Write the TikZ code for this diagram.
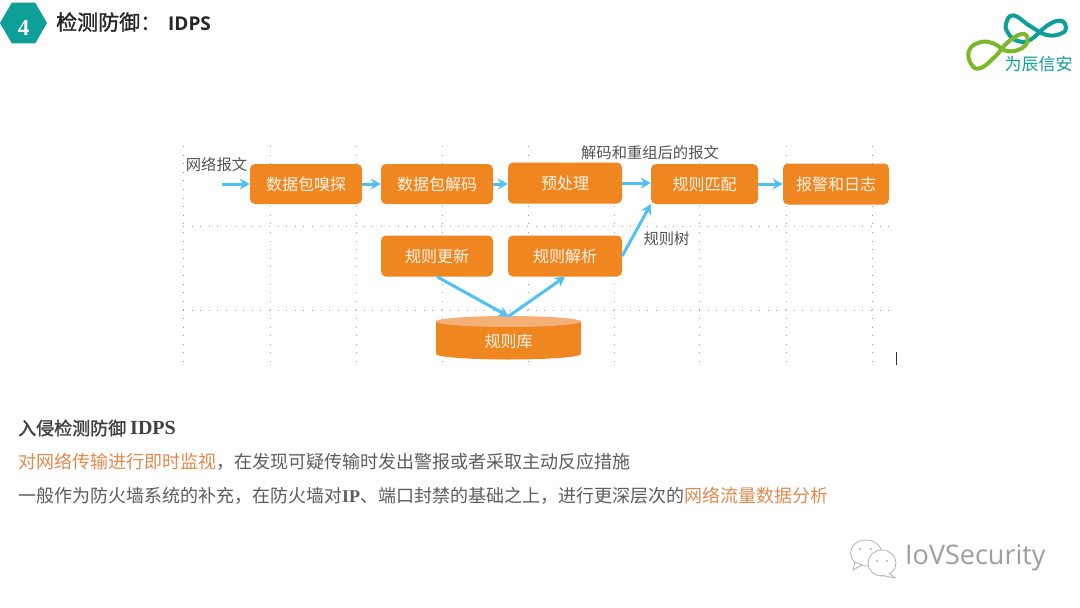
\documentclass[tikz,border=0pt]{standalone}
\usepackage{fontspec}
\setmainfont{Liberation Serif}
\newfontfamily\cjk{Noto Sans CJK SC}
\newfontfamily\cjkb[RawFeature={embolden=1.5}]{Noto Sans CJK SC}
\newfontfamily\lsans{Open Sans}
\usetikzlibrary{arrows.meta,shapes.geometric}
\definecolor{boxor}{HTML}{F0861F}
\definecolor{dbtop}{HTML}{F5B078}
\definecolor{arrowb}{HTML}{4FC1F5}
\definecolor{teal1}{HTML}{0E9F99}
\definecolor{green1}{HTML}{7CB82A}
\definecolor{txt}{HTML}{404040}
\definecolor{hl}{HTML}{DF8A4E}
\tikzset{
  x=1pt,y=-1pt,
  pbox/.style={rectangle,rounded corners=5pt,fill=boxor,text=white!92!boxor,font=\cjk\fontsize{16}{16}\selectfont,inner sep=0pt},
  lbl/.style={font=\cjk\fontsize{15.3}{16}\selectfont,text=txt!90!white,inner sep=0pt},
  flow/.style={draw=arrowb,line width=3pt,-{Stealth[length=10pt,width=11pt]},shorten >=0pt},
  griddot/.style={draw=black!38,line width=1pt,dash pattern=on 1pt off 7.6pt},
  para/.style={anchor=west,inner sep=0pt,font=\cjk\fontsize{18}{20}\selectfont,text=txt!85!white},
}
\begin{document}
\begin{tikzpicture}
\useasboundingbox (0,0) rectangle (1080,608);
\fill[white] (0,0) rectangle (1080,608);

% dotted grid
\foreach \gx in {183,270,356,442,528,614,699,786,872}{\draw[griddot] (\gx,146) -- (\gx,364);}
\foreach \gy in {226,310}{\draw[griddot] (183,\gy) -- (890,\gy);}

% header
\node[regular polygon,regular polygon sides=6,fill=teal1,minimum size=47pt,inner sep=0pt] (hex) at (23.5,23) {};
\node[font=\rmfamily\bfseries\fontsize{23}{24}\selectfont,text=white,inner sep=0pt] (num) at (23.5,28) {4};
\node[anchor=west,inner sep=0pt,text=black!85] (title) at (56,22) {\cjkb\fontsize{21}{22}\selectfont 检测防御：\hspace{7pt}\lsans\bfseries\fontsize{19}{22}\selectfont IDPS};

% logo
\begin{scope}[shift={(950,0)},x=0.3333pt,y=-0.3333pt]
\draw[teal1,line width=4pt] plot[smooth cycle,tension=0.75] coordinates {(168,72)(190,46)(240,78)(290,105)(335,100)(348,80)(330,62)(290,78)(240,120)(200,122)(175,100)};
\draw[green1,line width=4pt] plot[smooth cycle,tension=0.75] coordinates {(233,118)(215,102)(172,128)(135,170)(90,205)(62,190)(58,150)(90,127)(130,130)(170,153)(215,145)};
\end{scope}
\node[font=\cjk\fontsize{17}{17}\selectfont,text=teal1,inner sep=0pt] (logotext) at (1038.5,64) {为辰信安};

% boxes
\node[pbox,minimum width=112pt,minimum height=40pt] (sniff) at (306,184) {数据包嗅探};
\node[pbox,minimum width=112pt,minimum height=40pt] (decode) at (437,184) {数据包解码};
\node[pbox,minimum width=114pt,minimum height=41pt] (prep) at (565,183) {预处理};
\node[pbox,minimum width=107pt,minimum height=40pt] (match) at (704.5,184) {规则匹配};
\node[pbox,minimum width=106pt,minimum height=41pt] (alarm) at (836,184) {报警和日志};
\node[pbox,minimum width=112pt,minimum height=41pt] (update) at (437,256) {规则更新};
\node[pbox,minimum width=114pt,minimum height=41pt] (parse) at (565,256) {规则解析};

% database
\fill[boxor] (436,321) rectangle (581,354);
\fill[boxor] (508.5,354) ellipse[x radius=72.5,y radius=5.5];
\fill[dbtop] (508.5,321.5) ellipse[x radius=72.5,y radius=5.5];
\node[minimum width=145pt,minimum height=43pt,inner sep=0pt] (db) at (508.5,338) {};
\node[text=white!92!boxor,font=\cjk\fontsize{16}{16}\selectfont,inner sep=0pt] (dbname) at (508.5,341) {规则库};

% labels
\node[lbl] (in) at (216.5,165) {网络报文};
\node[lbl] (dec) at (650,153) {解码和重组后的报文};
\node[lbl] (tree) at (666.5,239) {规则树};

% connectors
\coordinate (start) at (222,184);
\draw[flow] (start) -- (sniff.west);
\draw[flow] (sniff.east) -- (decode.west);
\draw[flow] (decode.east) -- (prep.west |- decode.east);
\draw[flow] (prep.east) -- (match.west |- prep.east);
\draw[flow] (match.east) -- (alarm.west |- match.east);
\draw[flow] (parse.east) -- (match.south west);
\draw[flow] (update.south) -- (db.north);
\draw[flow] (db.north) -- (parse.south);

% cursor mark
\coordinate (c1) at (896,352);
\coordinate (c2) at (896,365);
\draw[black!80,line width=1pt] (c1) -- (c2);

% paragraph
\node[para,text=txt] (p1) at (18,428) {\cjkb 入侵检测防御 {\rmfamily\bfseries\fontsize{20}{20}\selectfont IDPS}};
\node[para] (p2) at (18,462) {\textcolor{hl}{对网络传输进行即时监视}，在发现可疑传输时发出警报或者采取主动反应措施};
\node[para] (p3) at (18,496) {一般作为防火墙系统的补充，在防火墙对{\rmfamily\bfseries IP}、端口封禁的基础之上，进行更深层次的\textcolor{hl}{网络流量数据分析}};

% watermark
\draw[black!30,fill=white,line width=0.8pt] (866,553) ellipse[x radius=15.5,y radius=13];
\fill[white,draw=black!30,line width=0.8pt] (855,562) -- (853,570) -- (862,565) -- cycle;
\draw[black!30,fill=white,line width=0.8pt] (882,563) ellipse[x radius=14,y radius=13];
\fill[white,draw=black!30,line width=0.8pt] (889,573) -- (895,578) -- (880,575) -- cycle;
\fill[white] (882,563) ellipse[x radius=13,y radius=12];
\foreach \dx/\dy in {860/549,871/549,877/561,887/561}{\fill[black!30] (\dx,\dy) circle[radius=1.1pt];}
\node[anchor=west,inner sep=0pt,text=black!38,font=\lsans\fontsize{27}{28}\selectfont] (wmtext) at (905,558) {IoVSecurity};
\end{tikzpicture}
\end{document}
